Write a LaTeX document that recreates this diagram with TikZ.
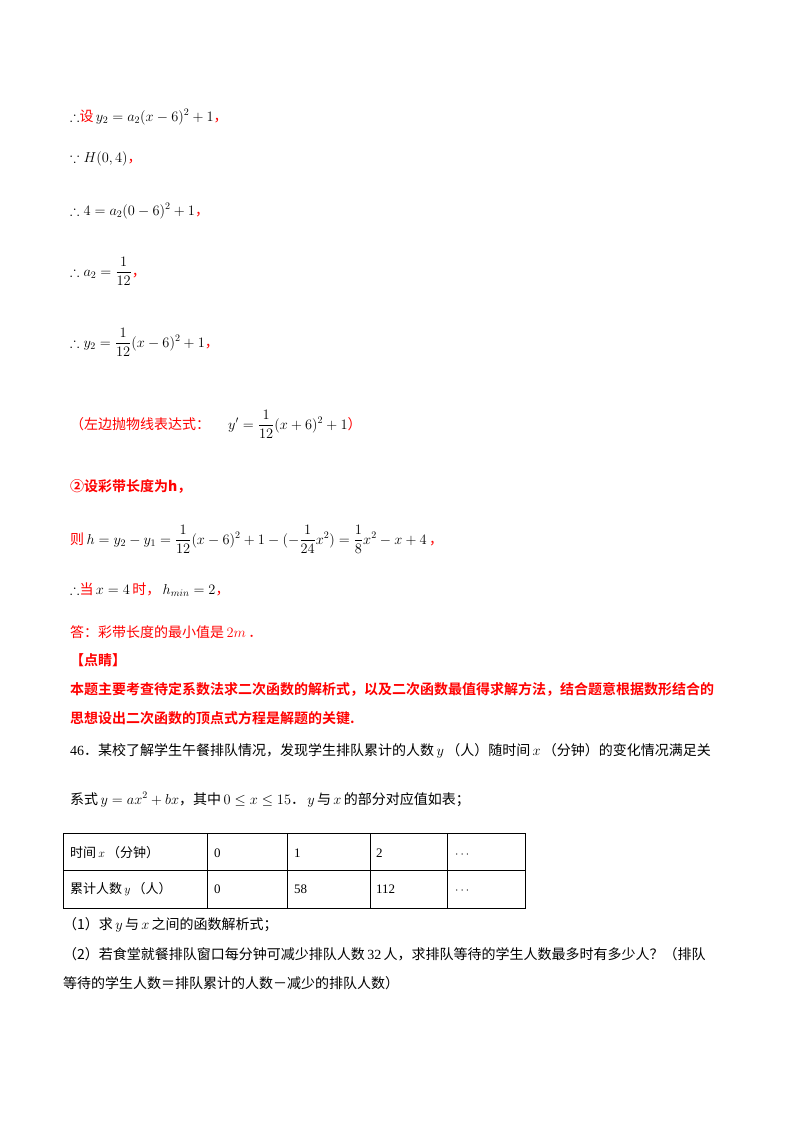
\documentclass[tikz,border=0pt]{standalone}
\usepackage{amsmath,amssymb}
\usepackage{fontspec}
\newfontfamily\cjk{Noto Sans CJK SC}[BoldFont={Noto Sans CJK SC Bold}]
\setmainfont{Liberation Serif}
\definecolor{rd}{RGB}{255,0,0}
\newcommand{\zh}[1]{{\cjk #1}}
\newcommand{\rz}[1]{{\color{rd}\cjk #1}}
\begin{document}
\begin{tikzpicture}[x=1pt,y=-1pt,
  t/.style={anchor=base west,inner sep=0pt,font=\fontsize{14}{17}\selectfont},
  rb/.style={t,text=rd,font=\fontsize{14}{17}\selectfont\cjk\bfseries},
  cell/.style={anchor=base west,inner sep=0pt,font=\fontsize{13}{16}\selectfont}]
\useasboundingbox[fill=white] (0,0) rectangle (800,1132);
\node[t] (l1) at (70,121) {$\therefore$\rz{设}$\,y_2=a_2(x-6)^2+1$\rz{，}};
\node[t] (l2) at (70,162) {$\because H(0,4)$\rz{，}};
\node[t] (l3) at (70,215) {$\therefore 4=a_2(0-6)^2+1$\rz{，}};
\node[t] (l4) at (70,276) {$\therefore a_2=\dfrac{1}{12}$\rz{，}};
\node[t] (l5) at (70,347) {$\therefore y_2=\dfrac{1}{12}(x-6)^2+1$\rz{，}};
\node[t] (l6) at (70,429) {\rz{（左边抛物线表达式：}\hspace{18pt}$y'=\dfrac{1}{12}(x+6)^2+1$\rz{）}};
\node[rb] (l7) at (70,491) {②设彩带长度为\textit{h}，};
\node[t] (l8) at (70,544) {\rz{则}$\,h=y_2-y_1=\dfrac{1}{12}(x-6)^2+1-(-\dfrac{1}{24}x^2)=\dfrac{1}{8}x^2-x+4$\rz{\,，}};
\node[t] (l9) at (70,594) {$\therefore$\rz{当}$\,x=4\,$\rz{时，}\,$h_{min}=2$\rz{，}};
\node[t,text=rd] (l10) at (70,637) {\zh{答：彩带长度的最小值是}\,$2m$\,\zh{．}};
\node[rb] (l11) at (70,665) {【点睛】};
\node[rb] (l12) at (70,694) {本题主要考查待定系数法求二次函数的解析式，以及二次函数最值得求解方法，结合题意根据数形结合的};
\node[rb] (l13) at (70,723) {思想设出二次函数的顶点式方程是解题的关键.};
\node[t] (l14) at (70,755) {46\zh{．某校了解学生午餐排队情况，发现学生排队累计的人数}\,$y$\,\zh{（人）随时间}\,$x$\,\zh{（分钟）的变化情况满足关}};
\node[t] (l15) at (70,804) {\zh{系式}\,$y=ax^2+bx$\zh{，其中}\,$0\le x\le 15$\zh{．}\,$y$\,\zh{与}\,$x$\,\zh{的部分对应值如表；}};
\draw[line width=0.8pt] (63,833) rectangle (525,908) (63,870) -- (525,870)
  (207,833) -- (207,908) (287,833) -- (287,908) (370,833) -- (370,908) (447,833) -- (447,908);
\node[cell] (c11) at (70,857) {\zh{时间}\,$x$\,\zh{（分钟）}};
\node[cell] (c12) at (214,857) {0};
\node[cell] (c13) at (294,857) {1};
\node[cell] (c14) at (376,857) {2};
\node[cell] (c15) at (455,857) {$\cdots$};
\node[cell] (c21) at (70,893) {\zh{累计人数}\,$y$\,\zh{（人）}};
\node[cell] (c22) at (214,893) {0};
\node[cell] (c23) at (294,893) {58};
\node[cell] (c24) at (376,893) {112};
\node[cell] (c25) at (455,893) {$\cdots$};
\node[t] (l16) at (63,929) {\zh{（1）求}\,$y$\,\zh{与}\,$x$\,\zh{之间的函数解析式；}};
\node[t] (l17) at (63,959) {\zh{（2）若食堂就餐排队窗口每分钟可减少排队人数}\,32\,\zh{人，求排队等待的学生人数最多时有多少人？（排队}};
\node[t] (l18) at (63,988) {\zh{等待的学生人数＝排队累计的人数－减少的排队人数）}};
\end{tikzpicture}
\end{document}
